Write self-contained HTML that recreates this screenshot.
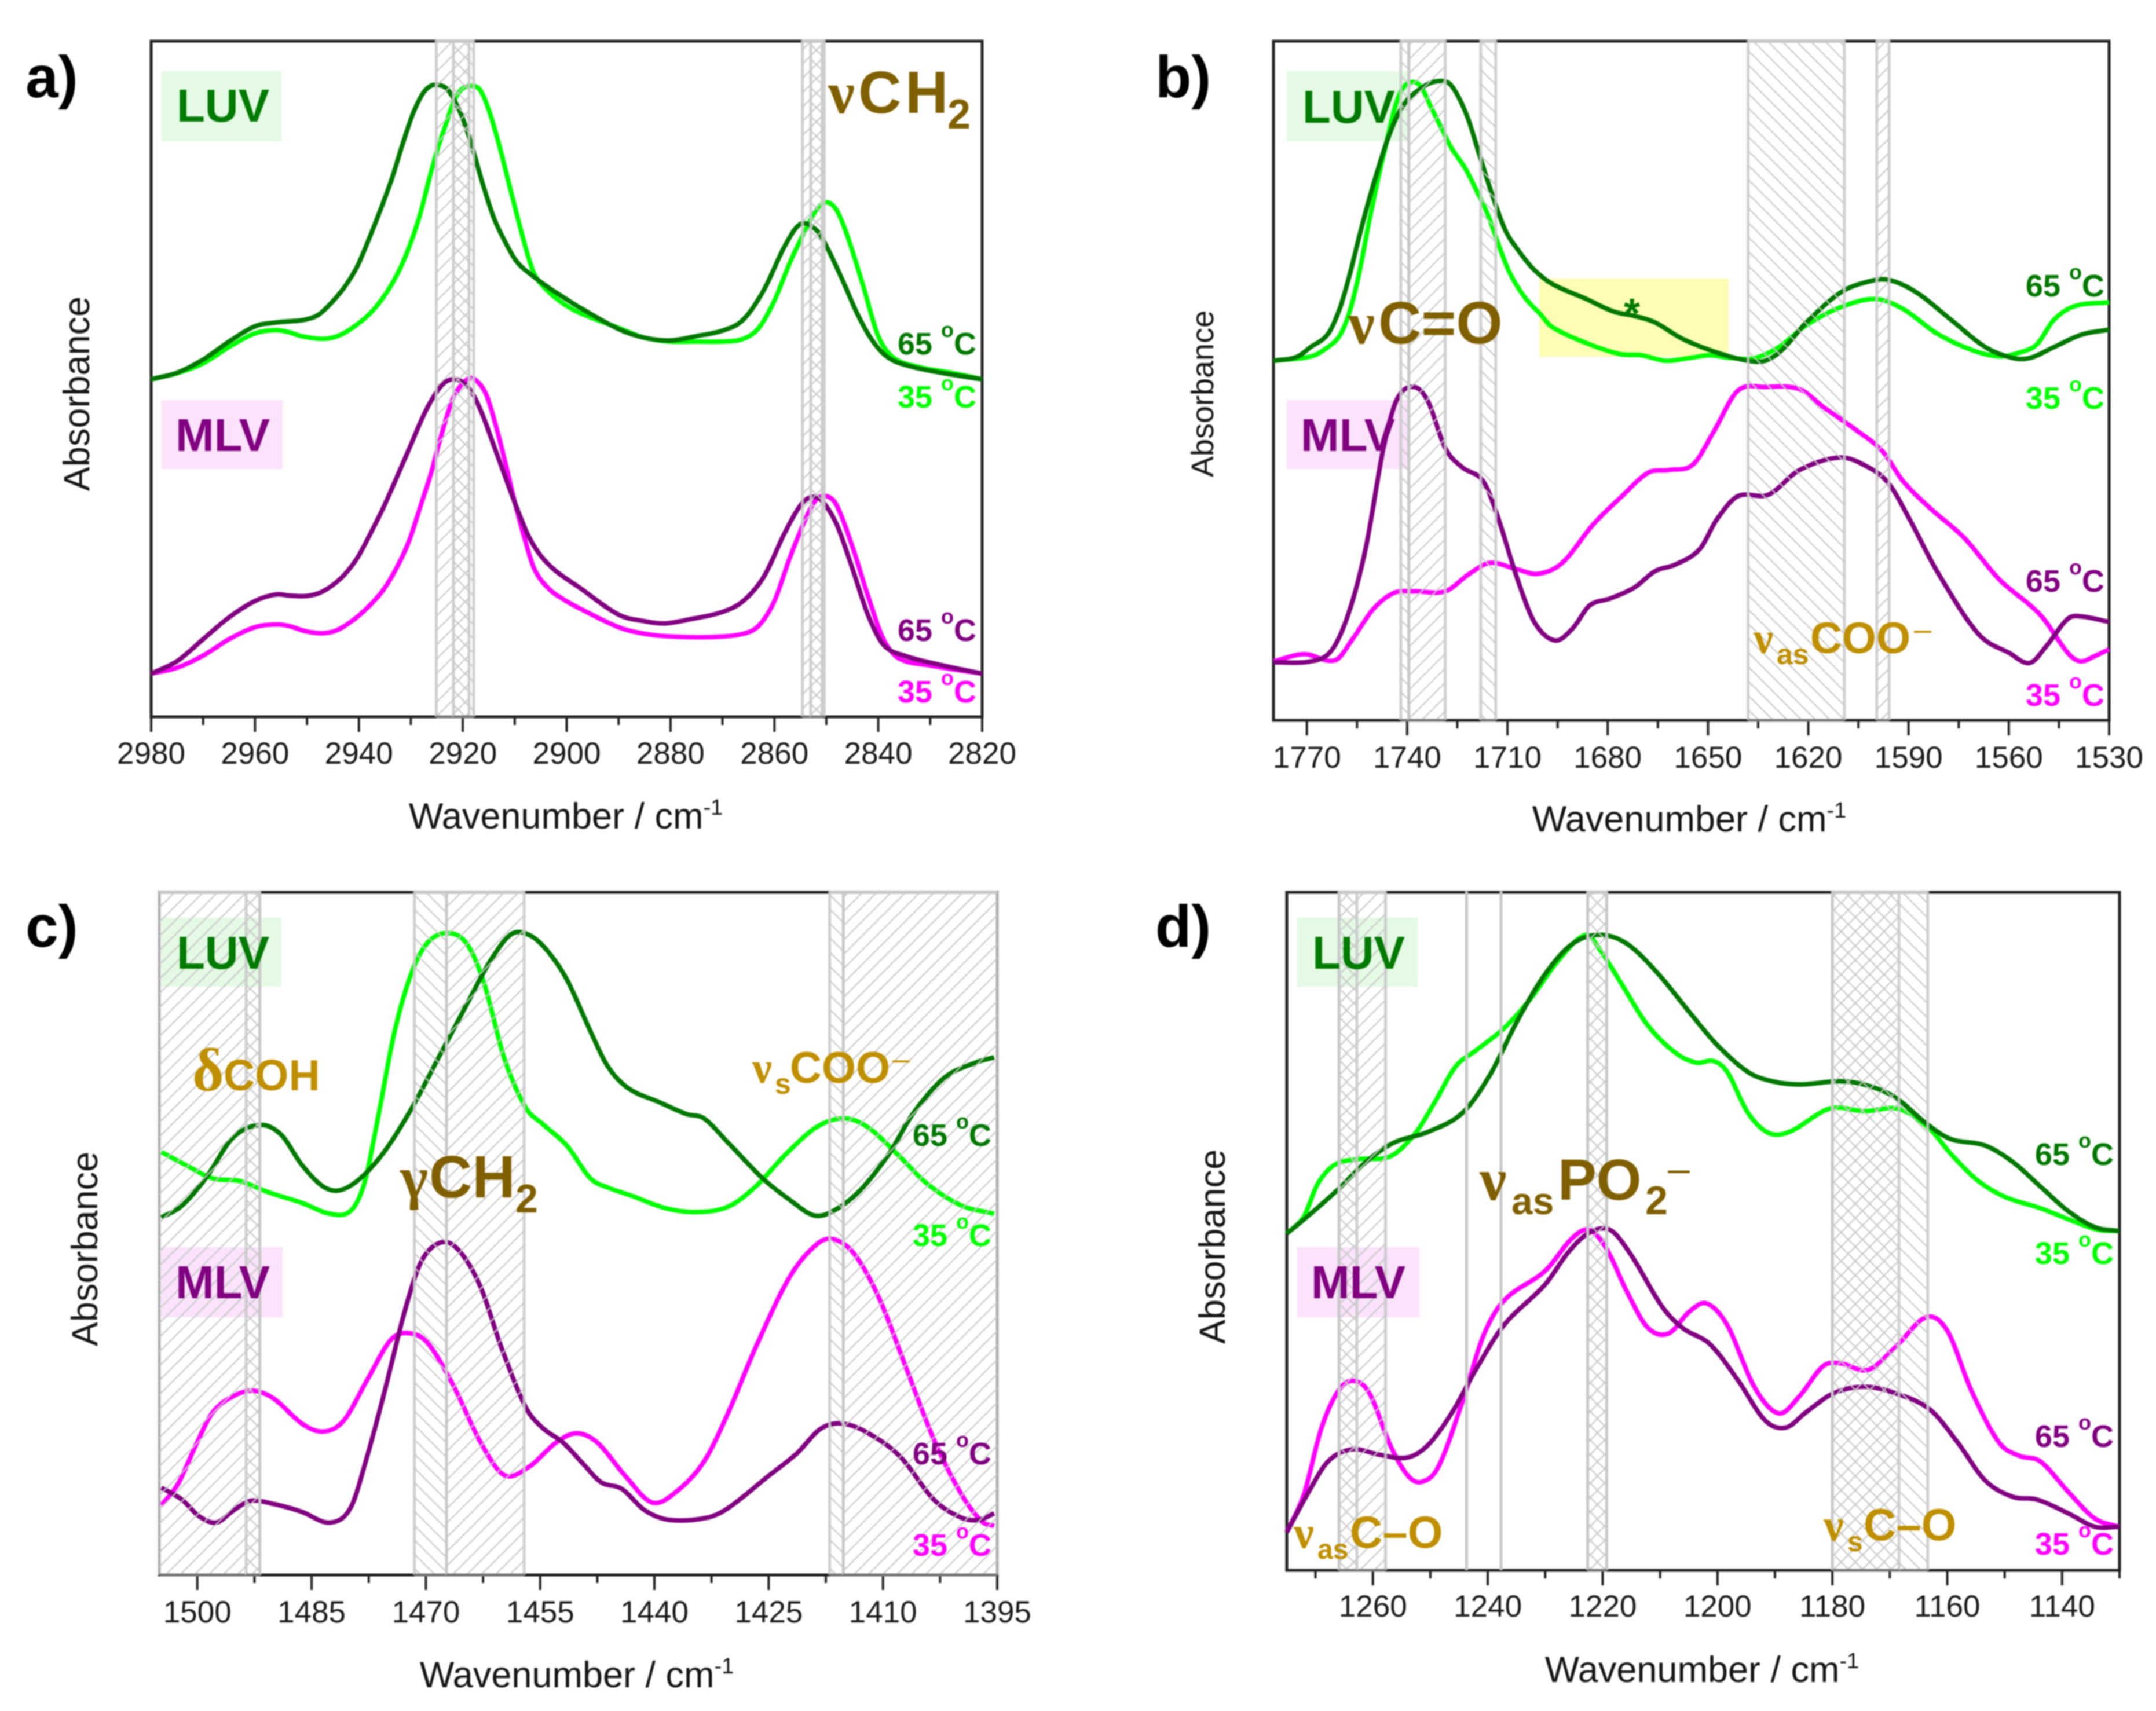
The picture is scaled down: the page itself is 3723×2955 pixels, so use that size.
<!DOCTYPE html>
<html lang="en">
<head>
<meta charset="utf-8">
<title>FTIR absorbance spectra of LUV and MLV at 35 and 65 °C</title>
<style>
html,body{margin:0;padding:0;background:#fff;}
svg{display:block;filter:blur(1px);}
text{font-family:"Liberation Sans",sans-serif;}
.gk{font-family:"Liberation Serif",serif;}
.tag{font-weight:bold;font-size:80px;}
.tmp{font-weight:bold;font-size:54px;text-anchor:end;}
.let{font-weight:bold;font-size:102px;fill:#000;}
.ttl{font-size:63px;fill:#151515;text-anchor:middle;}
.brn{font-weight:bold;fill:#7f5f00;}
.gld{font-weight:bold;fill:#bf8f00;}
.thin{font-weight:normal;}
</style>
</head>
<body>
<svg id="root" xmlns="http://www.w3.org/2000/svg" width="3723" height="2955" viewBox="0 0 3723 2955">
<defs>
<pattern id="h-f" patternUnits="userSpaceOnUse" width="17.5" height="17.5" patternTransform="rotate(45)"><line x1="8" y1="0" x2="8" y2="17.5" stroke="#c8c8c8" stroke-width="2.2"/></pattern>
<pattern id="h-b" patternUnits="userSpaceOnUse" width="17.5" height="17.5" patternTransform="rotate(-45)"><line x1="8" y1="0" x2="8" y2="17.5" stroke="#c8c8c8" stroke-width="2.2"/></pattern>
</defs>
<rect x="0" y="0" width="3723" height="2955" fill="#fff"/>

<!-- Panel a -->
<g>
<rect x="279" y="123" width="207" height="121" fill="#e4fae4"/>
<rect x="279" y="691" width="209" height="119" fill="#fae3fb"/>
<g id="marks-a"></g>
<text class="let" x="44" y="168">a)</text>
<text class="tag" x="305" y="210" fill="#007a00">LUV</text>
<text class="tag" x="303" y="779" fill="#800080">MLV</text>
<text class="brn" y="195" font-size="103"><tspan class="gk" x="1430">ν</tspan><tspan x="1482">C</tspan><tspan x="1563">H</tspan><tspan x="1636" font-size="72" y="222">2</tspan></text>
<text class="tmp" x="1686" y="612" fill="#007800">65 <tspan font-size="36" dy="-30">o</tspan><tspan dy="30">C</tspan></text>
<text class="tmp" x="1686" y="704" fill="#00ff00">35 <tspan font-size="36" dy="-30">o</tspan><tspan dy="30">C</tspan></text>
<text class="tmp" x="1686" y="1107" fill="#800080">65 <tspan font-size="36" dy="-30">o</tspan><tspan dy="30">C</tspan></text>
<text class="tmp" x="1686" y="1213" fill="#ff00ff">35 <tspan font-size="36" dy="-30">o</tspan><tspan dy="30">C</tspan></text>
<text class="ttl" x="977" y="1431">Wavenumber / cm<tspan font-size="38" dy="-24">-1</tspan></text>
<text class="ttl" transform="translate(154 680) rotate(-90)">Absorbance</text>
</g>

<!-- Panel b -->
<g>
<rect x="2222" y="123" width="211" height="121" fill="#e4fae4"/>
<rect x="2222" y="691" width="211" height="119" fill="#fae3fb"/>
<rect x="2658" y="481" width="327" height="135" fill="#fdfdb4"/>
<g id="marks-b"></g>
<text class="let" x="1995" y="168">b)</text>
<text class="tag" x="2249" y="212" fill="#007a00">LUV</text>
<text class="tag" x="2246" y="779" fill="#800080">MLV</text>
<text class="brn" y="593" font-size="103"><tspan class="gk" x="2328">ν</tspan><tspan x="2380">C=O</tspan></text>
<text x="2818" y="566" font-size="72" font-weight="bold" fill="#007a00" text-anchor="middle">*</text>
<text class="gld" y="1128" font-size="76"><tspan class="gk" x="3028">ν</tspan><tspan x="3068" font-size="50" y="1147">as</tspan><tspan x="3126" y="1128">COO</tspan><tspan class="thin" x="3305" font-size="54" y="1105">–</tspan></text>
<text class="tmp" x="3634" y="512" fill="#007800">65 <tspan font-size="36" dy="-30">o</tspan><tspan dy="30">C</tspan></text>
<text class="tmp" x="3634" y="706" fill="#00ff00">35 <tspan font-size="36" dy="-30">o</tspan><tspan dy="30">C</tspan></text>
<text class="tmp" x="3634" y="1022" fill="#800080">65 <tspan font-size="36" dy="-30">o</tspan><tspan dy="30">C</tspan></text>
<text class="tmp" x="3634" y="1219" fill="#ff00ff">35 <tspan font-size="36" dy="-30">o</tspan><tspan dy="30">C</tspan></text>
<text class="ttl" x="2917" y="1436">Wavenumber / cm<tspan font-size="38" dy="-24">-1</tspan></text>
<text class="ttl" style="font-size:54px" transform="translate(2095 680) rotate(-90)">Absorbance</text>
</g>

<!-- Panel c -->
<g>
<rect x="279" y="1585" width="207" height="119" fill="#e4fae4"/>
<rect x="279" y="2154" width="209" height="121" fill="#fae3fb"/>
<g id="marks-c"></g>
<text class="let" x="44" y="1635">c)</text>
<text class="tag" x="305" y="1673" fill="#007a00">LUV</text>
<text class="tag" x="303" y="2242" fill="#800080">MLV</text>
<text class="gld" y="1883"><tspan class="gk" x="332" font-size="105">δ</tspan><tspan x="386" font-size="75">COH</tspan></text>
<text class="brn" y="2068" font-size="103"><tspan class="gk" x="691">γ</tspan><tspan x="741">CH</tspan><tspan x="890" font-size="70" y="2094">2</tspan></text>
<text class="gld" y="1870" font-size="76"><tspan class="gk" x="1299">ν</tspan><tspan x="1338" font-size="50" y="1889">s</tspan><tspan x="1364" y="1870">COO</tspan><tspan class="thin" x="1541" font-size="54" y="1847">–</tspan></text>
<text class="tmp" x="1712" y="1979" fill="#007800">65 <tspan font-size="36" dy="-30">o</tspan><tspan dy="30">C</tspan></text>
<text class="tmp" x="1712" y="2152" fill="#00ff00">35 <tspan font-size="36" dy="-30">o</tspan><tspan dy="30">C</tspan></text>
<text class="tmp" x="1712" y="2529" fill="#800080">65 <tspan font-size="36" dy="-30">o</tspan><tspan dy="30">C</tspan></text>
<text class="tmp" x="1712" y="2687" fill="#ff00ff">35 <tspan font-size="36" dy="-30">o</tspan><tspan dy="30">C</tspan></text>
<text class="ttl" x="996" y="2914">Wavenumber / cm<tspan font-size="38" dy="-24">-1</tspan></text>
<text class="ttl" transform="translate(168 2157) rotate(-90)">Absorbance</text>
</g>

<!-- Panel d -->
<g>
<rect x="2240" y="1585" width="208" height="119" fill="#e4fae4"/>
<rect x="2240" y="2154" width="211" height="121" fill="#fae3fb"/>
<g id="marks-d"></g>
<text class="let" x="1995" y="1635">d)</text>
<text class="tag" x="2266" y="1673" fill="#007a00">LUV</text>
<text class="tag" x="2264" y="2242" fill="#800080">MLV</text>
<text class="brn" y="2072" font-size="100"><tspan class="gk" x="2555" font-size="104">ν</tspan><tspan x="2610" font-size="66" y="2097">as</tspan><tspan x="2690" y="2072">PO</tspan><tspan x="2841" font-size="70" y="2097">2</tspan><tspan class="thin" x="2880" font-size="68" y="2041">–</tspan></text>
<text class="gld" y="2673" font-size="78"><tspan class="gk" x="2234">ν</tspan><tspan x="2275" font-size="48" y="2692">as</tspan><tspan x="2331" y="2673">C–O</tspan></text>
<text class="gld" y="2660" font-size="78"><tspan class="gk" x="3149">ν</tspan><tspan x="3190" font-size="48" y="2679">s</tspan><tspan x="3218" y="2660">C–O</tspan></text>
<text class="tmp" x="3650" y="2012" fill="#007800">65 <tspan font-size="36" dy="-30">o</tspan><tspan dy="30">C</tspan></text>
<text class="tmp" x="3650" y="2183" fill="#00ff00">35 <tspan font-size="36" dy="-30">o</tspan><tspan dy="30">C</tspan></text>
<text class="tmp" x="3650" y="2499" fill="#800080">65 <tspan font-size="36" dy="-30">o</tspan><tspan dy="30">C</tspan></text>
<text class="tmp" x="3650" y="2685" fill="#ff00ff">35 <tspan font-size="36" dy="-30">o</tspan><tspan dy="30">C</tspan></text>
<text class="ttl" x="2939" y="2905">Wavenumber / cm<tspan font-size="38" dy="-24">-1</tspan></text>
<text class="ttl" transform="translate(2115 2153) rotate(-90)">Absorbance</text>
</g>
</svg>

<script>
// ---------- Panel a data (wavenumber / cm-1, absorbance a.u.) ----------
const aMajorTicks = [2980,2960,2940,2920,2900,2880,2860,2840,2820];
const aMinorTicks = [2970,2950,2930,2910,2890,2870,2850,2830];
const aBands = [[2925.1,2918.8,'f'],[2921.8,2917.9,'b'],[2854.6,2850.8,'f'],[2853,2850.4,'b']];
const aLuv35W = [2980,2975,2970,2965,2960,2956,2953.4,2951.1,2947,2944.1,2941.1,2937.7,2934.8,2932.2,2929.9,2928.1,2926.2,2924.7,2923.2,2921.8,2920.3,2918.4,2916.7,2915.1,2913.2,2911.4,2909.5,2907.6,2906.2,2904.3,2901.3,2897.6,2890,2885,2880,2875,2870,2866,2863,2860,2857,2854,2852,2850,2848,2846,2843,2840,2837,2832,2826,2820];
const aLuv35A = [618,629,647,677,702,708,704,697,692,697,713,740,775,818,871,924,994,1044,1086,1125,1148,1155,1148,1114,1054,987,916,849,810,786,761,740,712,694,687,687,687,692,712,762,832,892,927,942,927,882,792,697,657,640,630,618];
const aLuv65W = [2980,2975,2970,2965,2960,2956,2953.4,2950.4,2947.8,2945.2,2942.6,2940.3,2938.1,2935.9,2933.7,2931.4,2929.6,2927.7,2926.2,2924.9,2923.2,2921.8,2919.9,2918,2916.2,2914,2911.7,2909.5,2906.5,2903.5,2900.6,2897.6,2890,2885,2880,2875,2870,2866,2862,2858,2855,2852,2850,2847,2844,2841,2838,2834,2828,2820];
const aLuv65A = [618,630,654,687,715,722,724,727,736,759,789,825,874,927,984,1054,1104,1141,1155,1157,1151,1132,1093,1037,977,913,867,832,807,786,768,750,710,694,689,697,707,727,782,862,902,892,862,802,737,687,657,642,630,618];
const aMlv35W = [2980,2975,2970,2965,2960,2956,2953.4,2950.4,2947,2944.1,2940.7,2937.7,2935.1,2932.5,2930.3,2928.1,2926.2,2924.7,2923.2,2921.8,2920.3,2918.6,2917.1,2915.4,2913.6,2911.7,2909.9,2908,2906.2,2903.5,2900.6,2897.6,2890,2885,2880,2872,2866,2863,2860,2857,2854,2852,2850,2848,2845,2842,2839,2836,2830,2820];
const aMlv35A = [79,90,112,142,164,169,166,157,153,159,180,206,235,277,323,387,443,496,546,585,607,620,613,588,532,461,390,323,270,235,215,199,164,152,147,146,152,167,212,292,362,397,404,387,312,222,142,107,94,79];
const aMlv65W = [2980,2975,2970,2965,2960,2956,2953.4,2950.4,2947.8,2945.5,2942.9,2940.3,2937.7,2935.1,2932.5,2929.9,2927.7,2925.5,2923.6,2921.8,2919.9,2918,2916.2,2914,2911.7,2909.5,2907.3,2905,2902.1,2897.6,2890,2885,2881,2876,2870,2866,2862,2858,2855,2853,2851,2848,2845,2842,2839,2835,2828,2820];
const aMlv65A = [79,102,142,182,212,224,222,221,226,238,259,291,337,387,443,500,549,588,611,618,612,590,553,496,436,380,330,295,267,237,187,175,171,179,192,212,257,337,387,402,397,352,272,187,132,112,95,79];

// ---------- Panel b data ----------
const bMajorTicks = [1770,1740,1710,1680,1650,1620,1590,1560,1530];
const bMinorTicks = [1755,1725,1695,1665,1635,1605,1575,1545];
const bBands = [[1741.9,1739.5,'b'],[1739.5,1728.6,'f'],[1718,1713.5,'b'],[1638,1609.2,'b'],[1599.5,1595.8,'f']];
const bLuv35W = [1780,1768.7,1763.7,1760.2,1757.3,1754.4,1751.5,1748.6,1746.3,1744,1741.7,1738.8,1735.9,1733,1729.6,1726.7,1722.7,1719.2,1715.7,1712.8,1709.4,1704.8,1700.1,1696.7,1685.4,1676.1,1669.9,1662.7,1655.5,1649.4,1643.2,1636,1628.8,1620.6,1610.3,1600,1591.7,1581.5,1571.2,1562.9,1556.8,1551.6,1546.5,1540.3,1530];
const bLuv35A = [658,666,683,704,746,817,909,994,1054,1114,1153,1168,1160,1124,1082,1047,1011,969,923,873,820,774,743,720,688,670,668,658,663,668,663,663,683,723,756,771,753,708,678,666,673,688,733,758,765];
const bLuv65W = [1780,1773,1768.9,1763.7,1760.2,1757.3,1754.4,1751.5,1748.6,1745.8,1742.9,1740,1737.1,1733.6,1730.2,1727.3,1724.4,1721.5,1718.6,1715.7,1713.4,1710.5,1707.1,1702.4,1696.7,1686.4,1678.2,1672,1665.8,1657.6,1647.3,1638,1632.9,1627.8,1620.6,1610.3,1602,1595.9,1587.6,1577.3,1567,1558.8,1553.7,1546.5,1538.2,1530];
const bLuv65A = [658,665,683,707,753,813,884,951,1011,1064,1107,1135,1151,1165,1170,1165,1138,1096,1039,983,941,895,863,827,799,771,748,740,728,698,673,658,658,678,728,783,803,806,783,733,683,663,663,683,706,715];
const bMlv35W = [1780,1770.8,1761.5,1756.4,1750.2,1744,1737.9,1728.6,1721.4,1715.2,1707,1700.8,1693.6,1684.4,1676.1,1667.9,1661.7,1654.5,1648.3,1641.1,1632.9,1622.6,1615.4,1606.1,1597.9,1591.7,1583.5,1573.2,1562.9,1550.6,1542.3,1538.6,1534.1,1530];
const bMlv35A = [108,121,110,148,203,233,236,236,268,288,276,268,288,358,408,453,458,468,528,603,610,606,573,533,493,438,388,333,258,193,123,108,118,130];
const bMlv65W = [1780,1768.7,1762.6,1757.4,1752.3,1747.1,1743,1737.9,1733.7,1728.6,1723.5,1717.3,1713.2,1707,1701.8,1695.7,1690.5,1685.4,1679.2,1672,1665.8,1659.7,1652.5,1647.3,1641.1,1631.9,1622.6,1610.3,1602,1595.9,1589.7,1581.5,1569.1,1559.8,1553.7,1548.5,1542.3,1538.2,1530];
const bMlv65A = [106,108,128,198,318,498,588,610,583,498,463,438,378,258,178,146,168,210,223,243,273,285,313,368,410,413,458,481,463,433,368,273,158,123,105,138,186,190,180];

// ---------- Panel c data ----------
const cMajorTicks = [1500,1485,1470,1455,1440,1425,1410,1395];
const cMinorTicks = [1492.5,1477.5,1462.5,1447.5,1432.5,1417.5,1402.5];
const cBands = [[1505,1491.8,'f'],[1493.6,1491.8,'b'],[1471.5,1467.3,'b'],[1467.3,1457.1,'f'],[1417,1415.2,'b'],[1415.2,1395,'f']];
const cLuv35W = [1504.7,1501.6,1498,1494.4,1490.8,1486.3,1482.6,1479.9,1478.1,1476.3,1474.1,1471.8,1469.6,1466.9,1464.6,1462.4,1459.7,1456.9,1454.7,1451.5,1448.4,1446.1,1443,1438.5,1434.4,1430.3,1426.7,1422.7,1418.6,1415,1411.9,1407.8,1404.2,1399.7,1395.4];
const cLuv35A = [776,753,728,723,703,683,663,668,718,838,998,1108,1163,1178,1158,1088,948,858,828,788,728,711,696,673,666,676,713,773,823,838,821,768,718,678,663];
const cLuv65W = [1504.7,1502,1498.9,1495.3,1491.7,1489,1486.3,1483.5,1481.3,1478.6,1475.4,1471.8,1468.2,1464.6,1461.5,1458.8,1456.5,1454.2,1451.5,1448.4,1446.1,1443.4,1439.4,1435.8,1433.5,1430.3,1425.8,1422.2,1419.1,1416.8,1413.2,1409.2,1406,1401.9,1397.9,1395.4];
const cLuv65A = [656,678,728,803,826,808,753,713,706,728,778,858,953,1048,1128,1176,1175,1148,1093,998,933,893,868,846,838,793,728,688,660,666,703,773,848,913,940,950];
const cMlv35W = [1504.7,1502.5,1500.2,1498,1495.3,1492.6,1489.9,1486.3,1483.5,1480.8,1477.7,1474.5,1471.8,1469.6,1466.4,1462.8,1459.7,1456.5,1452.9,1450.2,1447.5,1443.9,1440.3,1437.1,1433.5,1430.3,1426.7,1422.2,1418.6,1416.4,1413.7,1410.5,1406.9,1403.3,1399.7,1397,1395.4];
const cMlv35A = [128,168,238,298,328,338,323,278,263,283,358,433,443,423,348,243,183,198,243,260,243,183,133,153,208,298,418,548,608,616,588,508,378,248,148,98,90];
const cMlv65W = [1504.7,1502,1499.8,1497.5,1495.3,1493,1489.9,1486.3,1482.6,1479.9,1477.7,1475.4,1472.7,1470.5,1467.8,1465.5,1462.8,1460.1,1456.9,1454.7,1452,1449.3,1447,1444.3,1441.2,1438,1433.1,1430.3,1424.9,1421.3,1418.2,1415.5,1412.3,1407.8,1403.3,1399.7,1397.4,1395.4];
const cMlv65A = [160,138,108,96,118,136,130,116,96,123,218,338,488,578,611,593,528,418,308,270,243,203,170,158,118,101,105,123,183,223,268,278,263,218,138,105,101,113];

// ---------- Panel d data ----------
const dMajorTicks = [1260,1240,1220,1200,1180,1160,1140];
const dMinorTicks = [1270,1250,1230,1210,1190,1170,1150,1130];
const dBands = [[1265.9,1257.8,'f'],[1265.9,1262.8,'b'],[1243.7,1243.7,'n'],[1237.7,1237.7,'n'],[1222.6,1219.3,'f'],[1222.6,1219.3,'b'],[1180,1163.4,'b'],[1180,1168.4,'f']];
const dLuv35W = [1275,1272,1269.6,1266.6,1262.4,1257,1252.8,1249.2,1245.6,1242,1237.2,1232.5,1227.7,1222.9,1220.5,1216.9,1212.1,1207.3,1203.7,1200.7,1198.3,1194.7,1191.1,1187.5,1180.4,1174.4,1168.4,1163,1159.4,1154.6,1149.8,1143.8,1137.8,1133.7,1130.1];
const dLuv35A = [618,650,710,745,755,760,800,860,925,955,995,1050,1120,1167,1140,1080,1000,950,932,935,915,840,803,805,848,843,847,810,765,715,685,665,640,625,623];
const dLuv65W = [1275,1270.8,1266,1261.2,1256.4,1250.4,1244.4,1239.6,1234.8,1230,1225.3,1220.5,1215.7,1210.3,1204.9,1200.1,1194.7,1190.5,1185.7,1178.6,1173.8,1169,1163.6,1159.4,1153.4,1148.6,1143.8,1139,1134.3,1130.1];
const dLuv65A = [618,655,700,750,785,805,840,910,1010,1095,1150,1167,1150,1095,1025,965,915,898,892,898,890,868,820,792,780,750,705,660,630,623];
const dMlv35W = [1275,1272,1269,1266,1263.4,1260.6,1257,1254,1251.6,1248.6,1244.4,1240.8,1237.2,1230,1225.3,1222.3,1219.3,1215.7,1212.1,1208.5,1204.9,1201.9,1198.3,1193.5,1189.3,1185.7,1181.6,1178.6,1173.8,1169,1163.6,1160,1155.8,1151,1147.4,1143.8,1139,1134.3,1130.1];
const dMlv35A = [70,140,260,330,348,325,230,175,162,190,310,430,495,550,610,625,590,510,445,435,475,490,450,335,288,320,375,380,368,410,465,440,330,235,210,200,145,95,80];
const dMlv65W = [1275,1271.4,1267.8,1263.6,1258.8,1254,1250.4,1246.2,1242,1237.2,1230,1225.9,1222.3,1218.7,1215.1,1209.7,1206.1,1201.3,1196.5,1191.7,1188.1,1184.6,1179.8,1174.4,1169,1163,1158.2,1153.4,1148.6,1144.4,1139,1134.3,1130.1];
const dMlv65A = [70,140,200,222,212,207,230,290,370,450,525,585,620,625,580,485,445,415,350,275,262,290,325,337,325,295,235,165,135,130,105,80,80];

// ---------- Rendering ----------
const SVGNS = 'http://www.w3.org/2000/svg';
const COL_L35 = '#00ff00', COL_L65 = '#007800', COL_M35 = '#ff00ff', COL_M65 = '#800080';

function mk(tag, parent) {
  const el = document.createElementNS(SVGNS, tag);
  parent.appendChild(el);
  return el;
}

function smoothPath(px, py) {
  const n = px.length;
  const m = [];
  for (let i = 0; i < n; i++) {
    const a = Math.max(i - 1, 0), b = Math.min(i + 1, n - 1);
    m.push((py[b] - py[a]) / (px[b] - px[a]));
  }
  let d = 'M' + px[0].toFixed(1) + ' ' + py[0].toFixed(1);
  for (let i = 0; i < n - 1; i++) {
    const h = (px[i + 1] - px[i]) / 3;
    d += 'C' + (px[i] + h).toFixed(1) + ' ' + (py[i] + m[i] * h).toFixed(1) + ' ' +
         (px[i + 1] - h).toFixed(1) + ' ' + (py[i + 1] - m[i + 1] * h).toFixed(1) + ' ' +
         px[i + 1].toFixed(1) + ' ' + py[i + 1].toFixed(1);
  }
  return d;
}

function drawPanel(cfg) {
  const g = document.getElementById('marks-' + cfg.id);
  const X = w => cfg.left + (cfg.xStart - w) / (cfg.xStart - cfg.xEnd) * (cfg.right - cfg.left);
  const Y = a => cfg.bottom - a / cfg.yMax * (cfg.bottom - cfg.top);

  const frame = mk('rect', g);
  
  
  frame.setAttribute('x', cfg.left);
  frame.setAttribute('y', cfg.top);
  frame.setAttribute('width', cfg.right - cfg.left);
  frame.setAttribute('height', cfg.bottom - cfg.top);
  frame.setAttribute('fill', 'none');
  frame.setAttribute('stroke', '#222');
  frame.setAttribute('stroke-width', '5');

  cfg.major.forEach(function (v) {
    const t = mk('line', g);
    
    
    t.setAttribute('x1', X(v));
    t.setAttribute('x2', X(v));
    t.setAttribute('y1', cfg.bottom);
    t.setAttribute('y2', cfg.bottom + 26);
    t.setAttribute('stroke', '#222');
    t.setAttribute('stroke-width', '4');
    const lab = mk('text', g);
    
    
    lab.setAttribute('x', X(v));
    lab.setAttribute('y', cfg.tickY);
    lab.setAttribute('text-anchor', 'middle');
    lab.setAttribute('font-size', '53');
    lab.setAttribute('fill', '#1a1a1a');
    lab.textContent = v;
  });
  cfg.minor.forEach(function (v) {
    const t = mk('line', g);
    
    
    t.setAttribute('x1', X(v));
    t.setAttribute('x2', X(v));
    t.setAttribute('y1', cfg.bottom);
    t.setAttribute('y2', cfg.bottom + 14);
    t.setAttribute('stroke', '#222');
    t.setAttribute('stroke-width', '4');
  });

  cfg.series.forEach(function (s) {
    const p = mk('path', g);
    
    
    p.setAttribute('d', smoothPath(s.w.map(X), s.a.map(Y)));
    p.setAttribute('fill', 'none');
    p.setAttribute('stroke', s.color);
    p.setAttribute('stroke-width', '8');
    p.setAttribute('stroke-linejoin', 'round');
  });

  cfg.bands.forEach(function (b) {
    const x0 = X(b[0]), x1 = X(b[1]);
    if (b[2] !== 'n') {
      const r = mk('rect', g);
      
      
      r.setAttribute('x', x0);
      r.setAttribute('y', cfg.top);
      r.setAttribute('width', x1 - x0);
      r.setAttribute('height', cfg.bottom - cfg.top);
      r.setAttribute('fill', 'url(#h-' + b[2] + ')');
    }
    [x0, x1].forEach(function (x) {
      const e = mk('line', g);
      
      
      e.setAttribute('x1', x);
      e.setAttribute('x2', x);
      e.setAttribute('y1', cfg.top - 2);
      e.setAttribute('y2', cfg.bottom);
      e.setAttribute('stroke', '#c8c8c8');
      e.setAttribute('stroke-width', '5');
      e.setAttribute('stroke-opacity', '0.85');
    });
    const cap = mk('line', g);
    
    
    cap.setAttribute('x1', x0);
    cap.setAttribute('x2', x1);
    cap.setAttribute('y1', cfg.top);
    cap.setAttribute('y2', cfg.top);
    cap.setAttribute('stroke', '#c8c8c8');
    cap.setAttribute('stroke-width', '6');
    const capB = mk('line', g);
    
    
    capB.setAttribute('x1', x0);
    capB.setAttribute('x2', x1);
    capB.setAttribute('y1', cfg.bottom);
    capB.setAttribute('y2', cfg.bottom);
    capB.setAttribute('stroke', '#777');
    capB.setAttribute('stroke-width', '5');
  });
}

drawPanel({id:'a', left:261, right:1696, top:71, bottom:1238, xStart:2980, xEnd:2820, yMax:1237, tickY:1319,
  major:aMajorTicks, minor:aMinorTicks, bands:aBands,
  series:[
    {name:'series-luv-35-a', w:aLuv35W, a:aLuv35A, color:COL_L35},
    {name:'series-luv-65-a', w:aLuv65W, a:aLuv65A, color:COL_L65},
    {name:'series-mlv-35-a', w:aMlv35W, a:aMlv35A, color:COL_M35},
    {name:'series-mlv-65-a', w:aMlv65W, a:aMlv65A, color:COL_M65}
  ]});
drawPanel({id:'b', left:2199, right:3642, top:71, bottom:1244, xStart:1780, xEnd:1530, yMax:1243, tickY:1326,
  major:bMajorTicks, minor:bMinorTicks, bands:bBands,
  series:[
    {name:'series-luv-35-b', w:bLuv35W, a:bLuv35A, color:COL_L35},
    {name:'series-luv-65-b', w:bLuv65W, a:bLuv65A, color:COL_L65},
    {name:'series-mlv-35-b', w:bMlv35W, a:bMlv35A, color:COL_M35},
    {name:'series-mlv-65-b', w:bMlv65W, a:bMlv65A, color:COL_M65}
  ]});
drawPanel({id:'c', left:275, right:1722, top:1541, bottom:2720, xStart:1505, xEnd:1395, yMax:1253, tickY:2802,
  major:cMajorTicks, minor:cMinorTicks, bands:cBands,
  series:[
    {name:'series-luv-35-c', w:cLuv35W, a:cLuv35A, color:COL_L35},
    {name:'series-luv-65-c', w:cLuv65W, a:cLuv65A, color:COL_L65},
    {name:'series-mlv-35-c', w:cMlv35W, a:cMlv35A, color:COL_M35},
    {name:'series-mlv-65-c', w:cMlv65W, a:cMlv65A, color:COL_M65}
  ]});
drawPanel({id:'d', left:2222, right:3660, top:1541, bottom:2712, xStart:1275, xEnd:1130, yMax:1245, tickY:2792,
  major:dMajorTicks, minor:dMinorTicks, bands:dBands,
  series:[
    {name:'series-luv-35-d', w:dLuv35W, a:dLuv35A, color:COL_L35},
    {name:'series-luv-65-d', w:dLuv65W, a:dLuv65A, color:COL_L65},
    {name:'series-mlv-35-d', w:dMlv35W, a:dMlv35A, color:COL_M35},
    {name:'series-mlv-65-d', w:dMlv65W, a:dMlv65A, color:COL_M65}
  ]});
</script>
</body>
</html>
